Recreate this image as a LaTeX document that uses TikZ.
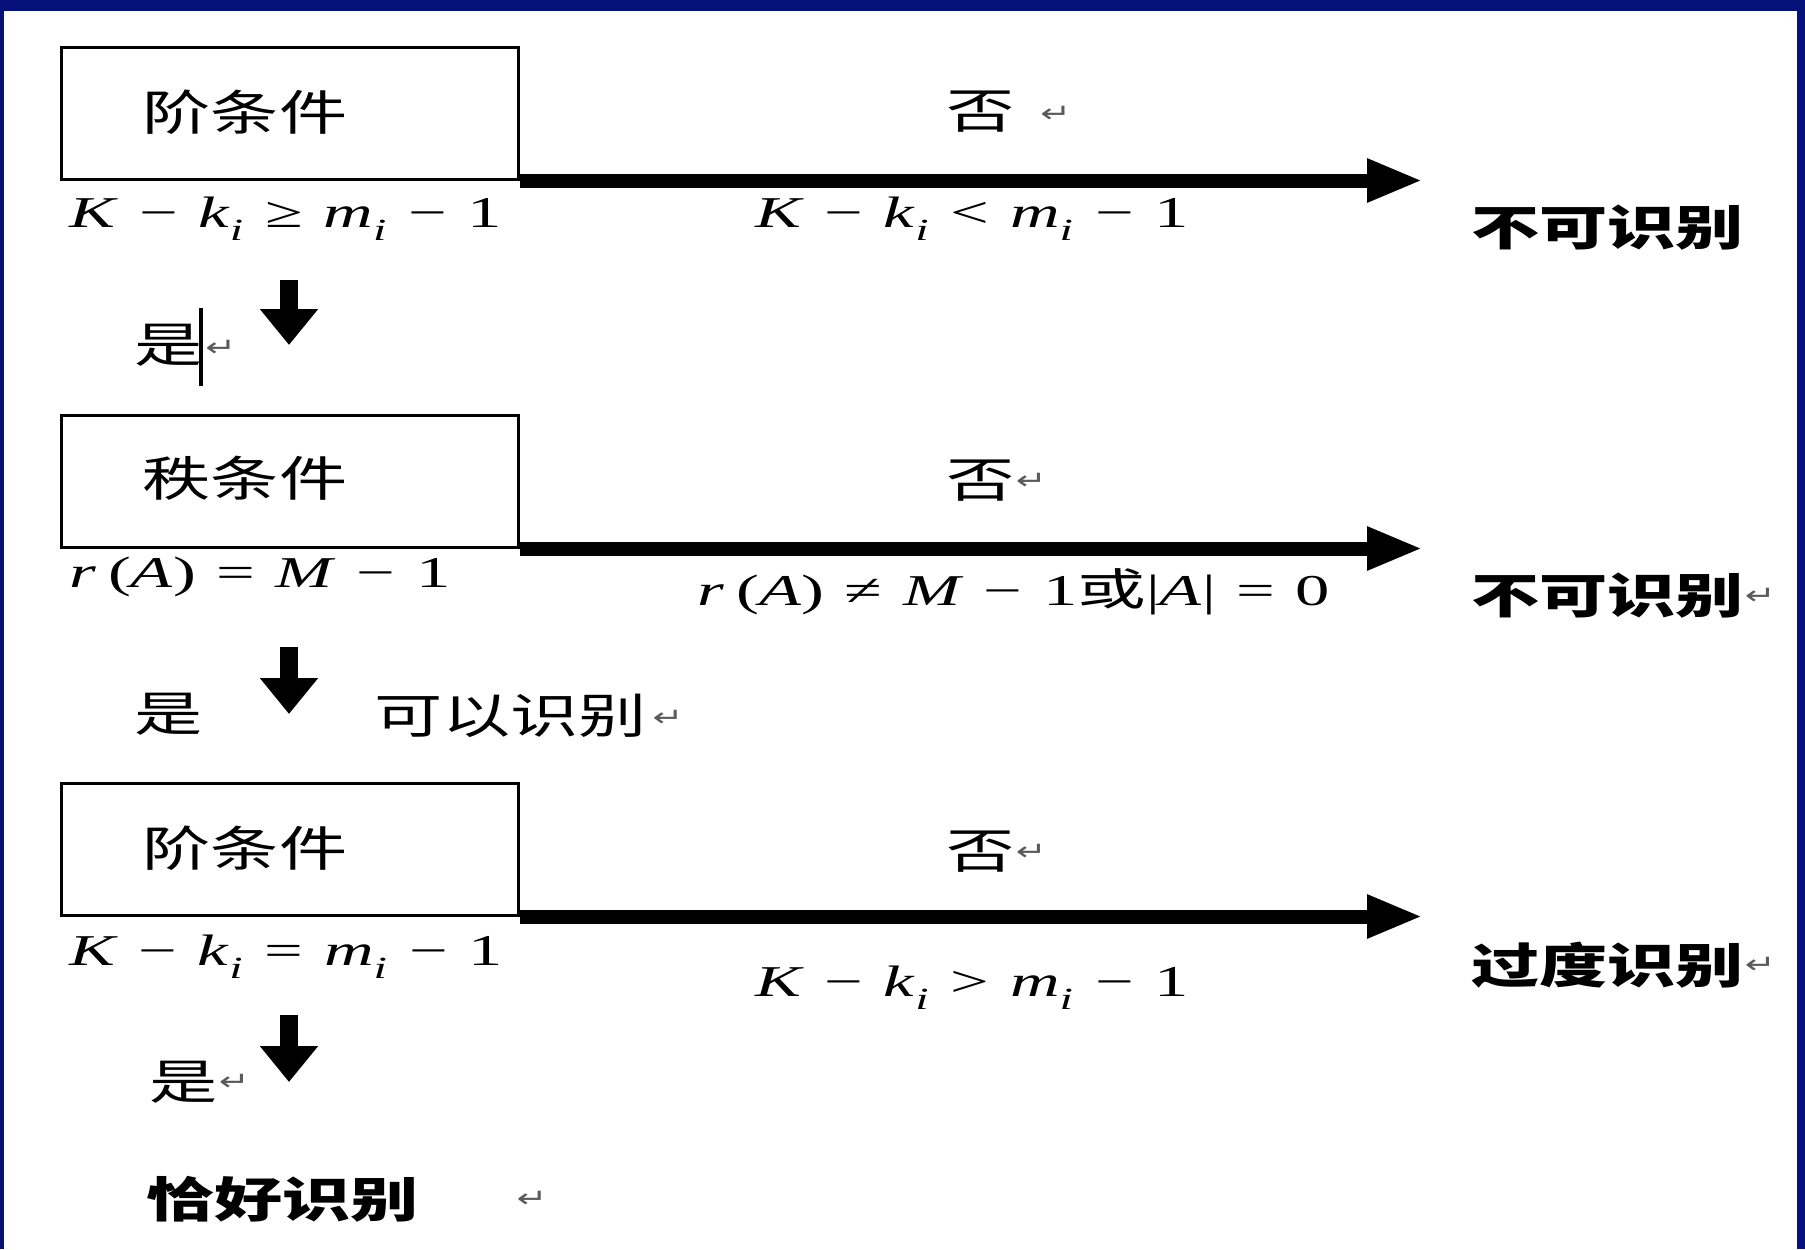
\documentclass[tikz,border=0pt]{standalone}
\usepackage{fontspec}
\usepackage{graphicx}
\usetikzlibrary{arrows.meta}
\newfontfamily\cjk{Noto Sans CJK SC}
\newfontfamily\tnr{Liberation Serif}
\newfontfamily\dvs{DejaVu Sans}
\definecolor{navy}{RGB}{6,18,122}
\definecolor{retgray}{RGB}{90,90,90}
% horizontally widened text, as in the slide
\newcommand\wx[1]{\scalebox{1.42}[1]{#1}}
\newcommand\wm[1]{\scalebox{1.56}[1]{#1}}
% paragraph mark
\newcommand\rmk{{\dvs\color{retgray}\fontsize{13}{13}\selectfont ↵}}
% formula helpers
\newcommand\iv[1]{\textit{#1}}
\newcommand\op[1]{\hspace{0.3em}#1\hspace{0.3em}}
\newcommand\subi[1]{\raisebox{-0.35ex}{\textsubscript{\textit{#1}}}}
\tikzset{
  cbox/.style={draw, line width=1.5pt, minimum width=228.5pt, minimum height=66pt, inner sep=0pt},
  lbl/.style={inner sep=0pt, font=\cjk\fontsize{24}{28}\selectfont},
  blbl/.style={inner sep=0pt, font=\cjk\bfseries\fontsize{24}{28}\selectfont},
  mth/.style={inner sep=0pt, font=\tnr\fontsize{22}{26}\selectfont},
  hflow/.style={line width=7pt, -{Triangle[length=28pt,width=20pt]}},
  vflow/.style={line width=9pt, -{Triangle[length=18pt,width=28pt]}},
}
\begin{document}
\begin{tikzpicture}[x=0.5pt,y=-0.5pt]
% page and frame
\fill[white] (0,0) rectangle (1805,1249);
\useasboundingbox (0,0) rectangle (1805,1249);
\fill[navy] (0,0) rectangle (1805,11);
\fill[navy] (0,0) rectangle (4,1249);
\fill[navy] (1797,0) rectangle (1805,1249);

% condition boxes
\node[cbox] (b1) at (289.5,113) {};
\node[cbox] (b2) at (289.5,481) {};
\node[cbox] (b3) at (289.5,849) {};
\node[lbl] (l1) at (245,112) {\wx{阶条件}};
\node[lbl] (l2) at (245,478) {\wx{秩条件}};
\node[lbl] (l3) at (245,848) {\wx{阶条件}};

% "no" branches
\coordinate (tipx) at (1423,0);
\draw[hflow] (b1.south east) -- (b1.south east -| tipx);
\draw[hflow] (b2.south east) -- (b2.south east -| tipx);
\draw[hflow] (b3.south east) -- (b3.south east -| tipx);

\node[lbl] (n1) at (981,112) {\wx{否}};
\node[inner sep=0pt, anchor=west] (n1r) at (1040,114) {\wx{\rmk}};
\node[lbl] (n2) at (981,481) {\wx{否}};
\node[inner sep=0pt, anchor=west] (n2r) at (n2.east) {\wx{\rmk}};
\node[lbl] (n3) at (981,852) {\wx{否}};
\node[inner sep=0pt, anchor=west] (n3r) at (n3.east) {\wx{\rmk}};

% conditions
\node[mth] (c1) at (286,219) {\wm{\iv{K}\op{−}\iv{k}\subi{i}\op{≥}\iv{m}\subi{i}\op{−}1}};
\node[mth] (c2) at (972,219) {\wm{\iv{K}\op{−}\iv{k}\subi{i}\op{<}\iv{m}\subi{i}\op{−}1}};
\node[mth] (c3) at (260,577) {\wm{\iv{r}\,(\iv{A})\op{=}\iv{M}\op{−}1}};
\node[mth] (c4) at (1014,592) {\wm{\iv{r}\,(\iv{A})\op{≠}\iv{M}\op{−}1{\cjk 或}|\iv{A}|\op{=}0}};
\node[mth] (c5) at (286,957) {\wm{\iv{K}\op{−}\iv{k}\subi{i}\op{=}\iv{m}\subi{i}\op{−}1}};
\node[mth] (c6) at (972,988) {\wm{\iv{K}\op{−}\iv{k}\subi{i}\op{>}\iv{m}\subi{i}\op{−}1}};

% outcomes
\node[blbl, anchor=west] (o1) at (1471,228) {\wx{不可识别}};
\node[blbl, anchor=west] (o2) at (1471,596) {\wx{不可识别}};
\node[inner sep=0pt, anchor=west] (o2r) at (o2.east) {\wx{\rmk}};
\node[blbl, anchor=west] (o3) at (1471,965) {\wx{过度识别}};
\node[inner sep=0pt, anchor=west] (o3r) at (o3.east) {\wx{\rmk}};
\node[blbl, anchor=west] (o4) at (146,1199) {\wx{恰好识别}};
\node[inner sep=0pt] (o4r) at (532,1199) {\wx{\rmk}};

% "yes" steps
\coordinate (d1s) at (289,280);
\coordinate (d1e) at (289,345);
\coordinate (d2s) at (289,647);
\coordinate (d2e) at (289,714);
\coordinate (d3s) at (289,1015);
\coordinate (d3e) at (289,1082);
\draw[vflow] (d1s) -- (d1e);
\draw[vflow] (d2s) -- (d2e);
\draw[vflow] (d3s) -- (d3e);

\node[lbl] (y1) at (169,345) {\wx{是}};
\coordinate (cur1) at (201,308);
\coordinate (cur2) at (201,386);
\draw[line width=2.2pt] (cur1) -- (cur2);
\node[inner sep=0pt, anchor=west] (y1r) at (205,348) {\wx{\rmk}};
\node[lbl] (y2) at (169,714) {\wx{是}};
\node[lbl, anchor=west] (k2) at (374,716) {\wx{可以识别}};
\node[inner sep=0pt] (k2r) at (668,718) {\wx{\rmk}};
\node[lbl] (y3) at (184,1082) {\wx{是}};
\node[inner sep=0pt, anchor=west] (y3r) at (y3.east) {\wx{\rmk}};
\end{tikzpicture}
\end{document}
